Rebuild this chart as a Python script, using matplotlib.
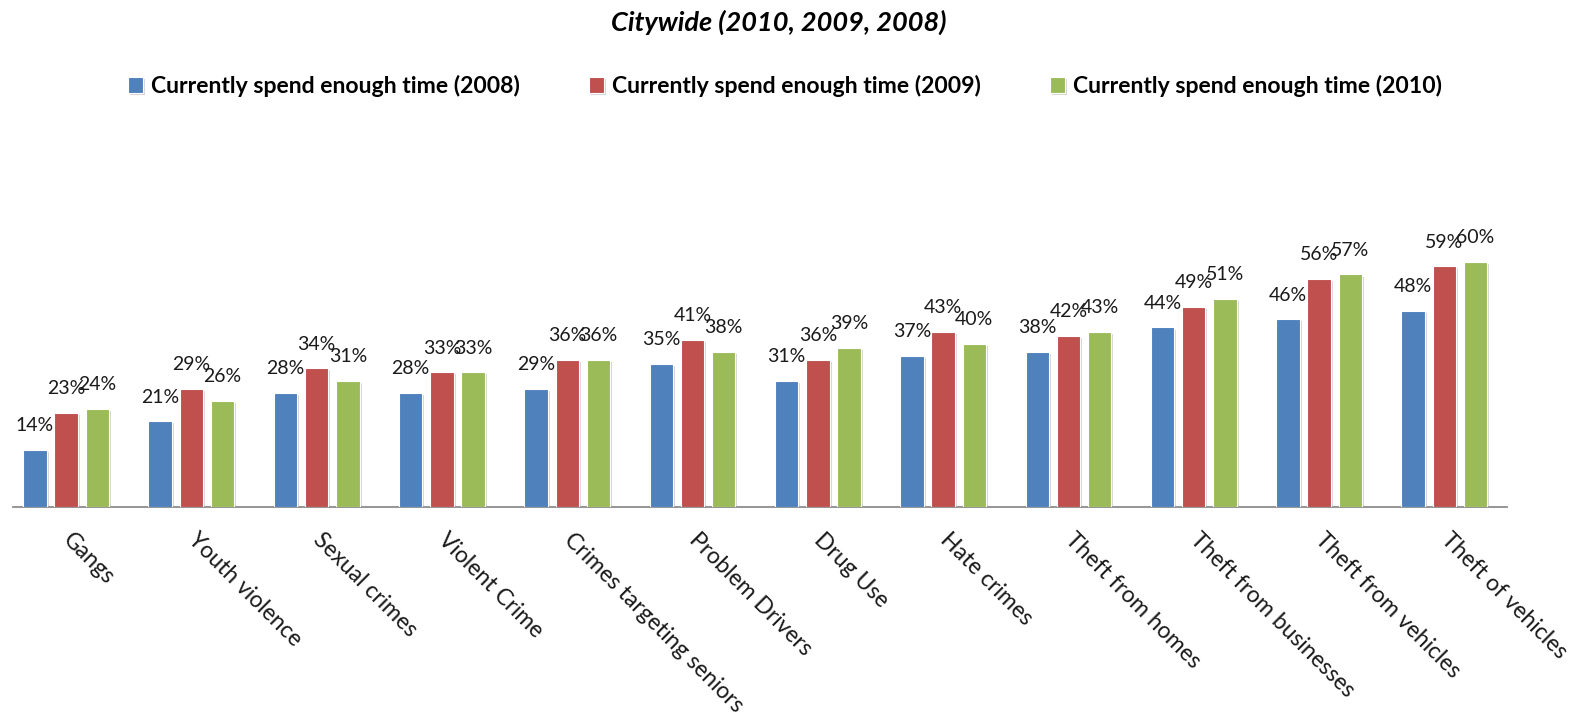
import numpy as np
import matplotlib
matplotlib.use('Agg')
import matplotlib.pyplot as plt
import matplotlib.patheffects as pe

plt.rcParams['font.family'] = ['Lato', 'DejaVu Sans']

categories = ['Gangs', 'Youth violence', 'Sexual crimes', 'Violent Crime',
              'Crimes targeting seniors', 'Problem Drivers', 'Drug Use',
              'Hate crimes', 'Theft from homes', 'Theft from businesses',
              'Theft from vehicles', 'Theft of vehicles']
pct_2008 = [14, 21, 28, 28, 29, 35, 31, 37, 38, 44, 46, 48]
pct_2009 = [23, 29, 34, 33, 36, 41, 36, 43, 42, 49, 56, 59]
pct_2010 = [24, 26, 31, 33, 36, 38, 39, 40, 43, 51, 57, 60]
series_labels = ['Currently spend enough time (2008)',
                 'Currently spend enough time (2009)',
                 'Currently spend enough time (2010)']
colors = ['#4F81BD', '#C0504D', '#9BBB59']

fig = plt.figure(figsize=(15.7, 7.28), dpi=100)
W, H = 1570, 728
ax = fig.add_axes([3.4 / W, 1 - 507 / H, 1503.6 / W, 285.6 / H])

x = np.arange(len(categories))
step = 0.249
width = 0.186
shadow = [pe.SimplePatchShadow(offset=(1.5, -1.5), shadow_rgbFace='#888888', alpha=0.35), pe.Normal()]

for i, (vals, lab, col) in enumerate(zip([pct_2008, pct_2009, pct_2010], series_labels, colors)):
    pos = x + (i - 1) * step
    bars = ax.bar(pos, vals, width, color=col, edgecolor='white', linewidth=0.8,
                  label=lab, zorder=3)
    for b in bars:
        b.set_path_effects(shadow)
    for px, v in zip(pos, vals):
        ax.annotate(f'{v}%', (px, v), xytext=(0, 13.5), textcoords='offset points',
                    ha='center', va='baseline', fontsize=14, color='#1a1a1a', zorder=5)

ax.set_xlim(-0.5, len(categories) - 0.5)
ax.set_ylim(0, 70)
for s in ['top', 'right', 'left']:
    ax.spines[s].set_visible(False)
ax.spines['bottom'].set_color('#8c8c8c')
ax.spines['bottom'].set_linewidth(1.3)
ax.spines['bottom'].set_bounds(-0.42, len(categories) - 0.5)
ax.set_yticks([])
ax.set_xticks(x)
ax.set_xticklabels(categories, rotation=-45, ha='left', va='center',
                   rotation_mode='anchor', fontsize=16.5, color='#1a1a1a')
ax.tick_params(axis='x', length=0, pad=21)

fig.text(0.496, 1 - 22 / H, 'Citywide (2010, 2009, 2008)', ha='center', va='center',
         fontsize=19.5, fontweight='bold', fontstyle='italic')

fig.legend(loc='center', bbox_to_anchor=(0.5, 1 - 86 / H), ncol=3, frameon=False,
           prop={'size': 16.6, 'weight': 'bold'}, handlelength=0.65, handleheight=0.65,
           handletextpad=0.35, columnspacing=3.0)

fig.savefig('out.png', dpi=100)
